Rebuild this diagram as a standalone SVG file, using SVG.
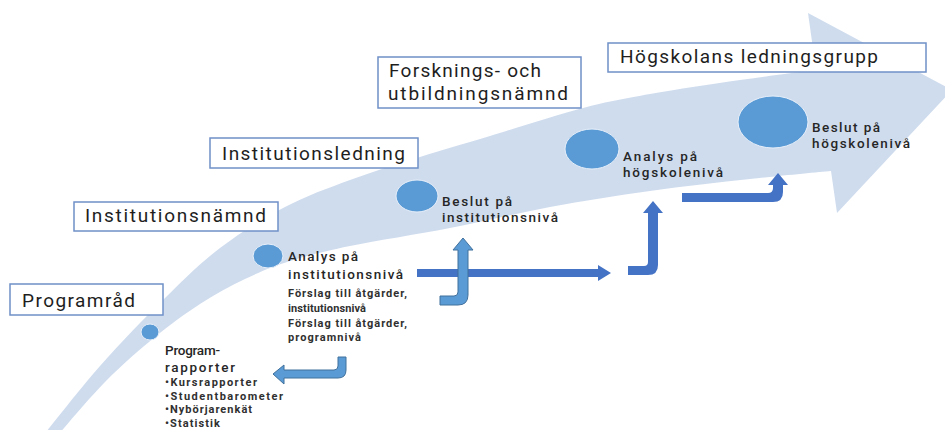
<svg xmlns="http://www.w3.org/2000/svg" width="945" height="430" viewBox="0 0 945 430">
<style>
.box{fill:#ffffff;stroke:#6f90c8;stroke-width:1.5}
.lbl{font-family:Roboto,"Liberation Sans",sans-serif;font-size:19px;fill:#1e1e1e}
.mid{font-family:Roboto,"Liberation Sans",sans-serif;font-size:13.5px;font-weight:500;fill:#262626}
.sm{font-family:Roboto,"Liberation Sans",sans-serif;font-size:11px;font-weight:700;fill:#303030}
.dot{fill:#5b9bd5;stroke:#e8f0fa;stroke-width:1}
.dark{fill:#4472c4}
.light{fill:#5b9bd5;stroke:#41719c;stroke-width:1}
</style>
<rect width="945" height="430" fill="#ffffff"/>
<path id="band" fill="#cfdcee" d="M38,442 C48.3,429.3 79.2,389.7 100,366 C120.8,342.3 143,319.7 163,300 C183,280.3 199.7,263.5 220,248 C240.3,232.5 263.3,218.3 285,207 C306.7,195.7 327.5,188.3 350,180 C372.5,171.7 396.7,164.3 420,157 C443.3,149.7 462.8,144.2 490,136 C517.2,127.8 556.3,115 583,108 C609.7,101 623.8,98.7 650,94 C676.2,89.3 712.3,84 740,80 C767.7,76 803.3,71.7 816,70 L808,13 L952,90 L837,213 L831,171 C817.5,172.3 780.2,175.7 750,179 C719.8,182.3 683.3,186.3 650,191 C616.7,195.7 583.3,200.8 550,207 C516.7,213.2 483.3,221.5 450,228 C416.7,234.5 376.7,240.5 350,246 C323.3,251.5 307.5,255.5 290,261 C272.5,266.5 260,271.8 245,279 C230,286.2 215,294.3 200,304 C185,313.7 170.8,324 155,337 C139.2,350 122.2,364.5 105,382 C87.8,399.5 60.8,432 52,442 Z"/>
<g id="connectors">
<path class="dark" d="M417,269 H598 V265 L611,273 L598,281 V277 H417 Z"/>
<path class="light" d="M440,296 H454 Q458,296 458,292 V250 H453 L463,238 L473,250 H468 V295 Q468,305 458,305 H440 Z"/>
<path class="dark" d="M628,266 H644 Q648,266 648,262 V213 H643 L653,201 L663,213 H658 V265 Q658,275 648,275 H628 Z"/>
<path class="dark" d="M682,193 H768 Q773,193 773,188 V185 H768 L778,173 L788,185 H783 V192 Q783,202 773,202 H682 Z"/>
<path class="light" d="M338,357 H346 V370 Q346,378 338,378 H284 V384 L273,374 L284,365 V370 H334 Q338,370 338,366 Z"/>
</g>
<g id="programrad">
<rect class="box" x="10" y="284" width="153" height="31"/>
<text class="lbl" x="22" y="307" textLength="113">Programråd</text>
</g>
<g id="institutionsnamnd">
<rect class="box" x="74" y="202" width="204" height="29"/>
<text class="lbl" x="85" y="222" textLength="181">Institutionsnämnd</text>
</g>
<g id="institutionsledning">
<rect class="box" x="210" y="138" width="208" height="30"/>
<text class="lbl" x="222" y="160" textLength="183">Institutionsledning</text>
</g>
<g id="fun">
<rect class="box" x="378" y="57" width="203" height="51"/>
<text class="lbl" x="389" y="77" textLength="152">Forsknings- och</text>
<text class="lbl" x="388" y="100" textLength="180">utbildningsnämnd</text>
</g>
<g id="hlg">
<rect class="box" x="608" y="43" width="318" height="29"/>
<text class="lbl" x="620" y="63" textLength="258">Högskolans ledningsgrupp</text>
</g>
<g id="programrapporter">
<ellipse class="dot" cx="150" cy="332" rx="9" ry="8"/>
<text class="mid" x="165" y="355" font-size="14.5" textLength="55">Program-</text>
<text class="mid" x="165" y="372" font-size="14.5" textLength="70">rapporter</text>
<text class="sm" x="165" y="386" textLength="92">•Kursrapporter</text>
<text class="sm" x="165" y="400" textLength="118">•Studentbarometer</text>
<text class="sm" x="165" y="413" textLength="87">•Nybörjarenkät</text>
<text class="sm" x="165" y="427" textLength="55">•Statistik</text>
</g>
<g id="analys-inst">
<ellipse class="dot" cx="268" cy="256" rx="15" ry="12"/>
<text class="mid" x="288" y="261" textLength="70">Analys på</text>
<text class="mid" x="288" y="279" textLength="115">institutionsnivå</text>
<text class="sm" x="288" y="297" textLength="119">Förslag till åtgärder,</text>
<text class="sm" x="288" y="312" textLength="78">institutionsnivå</text>
<text class="sm" x="288" y="327" textLength="119">Förslag till åtgärder,</text>
<text class="sm" x="288" y="341" textLength="73">programnivå</text>
</g>
<g id="beslut-inst">
<ellipse class="dot" cx="417" cy="196" rx="21" ry="16"/>
<text class="mid" x="442" y="206" textLength="70">Beslut på</text>
<text class="mid" x="442" y="222" textLength="116">institutionsnivå</text>
</g>
<g id="analys-hs">
<ellipse class="dot" cx="592" cy="149" rx="27" ry="20"/>
<text class="mid" x="623" y="161" textLength="74">Analys på</text>
<text class="mid" x="623" y="177" textLength="100">högskolenivå</text>
</g>
<g id="beslut-hs">
<ellipse class="dot" cx="773" cy="122" rx="35" ry="26"/>
<text class="mid" x="812" y="132" textLength="68">Beslut på</text>
<text class="mid" x="812" y="148" textLength="98">högskolenivå</text>
</g>
</svg>
